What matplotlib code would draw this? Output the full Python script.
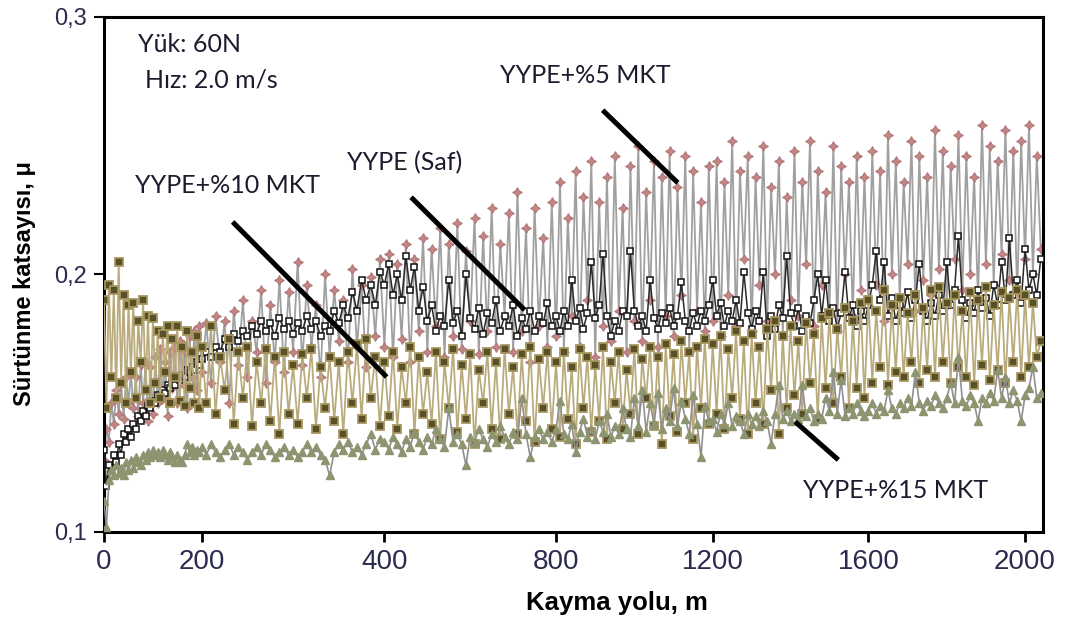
import matplotlib.pyplot as plt
import numpy as np

# sliding distance (m): 5 m steps up to 400 m, 10 m steps after that
x_m = np.concatenate([np.arange(0, 400, 5), np.arange(400, 2041, 10)])

# friction coefficients, in units of 1e-3
mu_5 = [
    128, 140, 135, 150, 142, 155, 146, 158, 144, 160, 150, 162, 148, 160, 145, 165, 150, 166, 143, 164,
    146, 168, 150, 171, 152, 166, 145, 170, 156, 172, 150, 174, 158, 170, 148, 176, 160, 178, 155, 180,
    162, 181, 158, 184, 166, 182, 150, 186, 165, 190, 160, 182, 170, 194, 158, 188, 166, 198, 162, 193,
    170, 205, 165, 196, 172, 188, 160, 200, 168, 194, 174, 190, 166, 202, 172, 196, 164, 199, 176, 206,
    172, 208, 168, 204, 175, 212, 166, 206, 178, 214, 170, 210, 180, 218, 168, 212, 176, 220, 171, 209,
    182, 222, 169, 215, 178, 226, 172, 212, 184, 224, 170, 232, 178, 218, 166, 226, 180, 214, 172, 228,
    176, 236, 170, 222, 184, 240, 172, 230, 190, 244, 168, 228, 180, 238, 174, 246, 186, 226, 170, 242,
    182, 250, 174, 232, 190, 244, 172, 238, 184, 248, 176, 234, 192, 246, 170, 240, 186, 228, 178, 242,
    182, 244, 176, 236, 192, 252, 180, 240, 206, 246, 178, 238, 196, 250, 182, 234, 200, 244, 176, 230,
    190, 248, 184, 236, 204, 252, 180, 240, 196, 232, 186, 250, 178, 242, 200, 236, 184, 246, 194, 238,
    188, 248, 196, 240, 182, 254, 200, 244, 190, 236, 204, 252, 186, 246, 198, 238, 192, 256, 202, 248,
    188, 242, 206, 254, 194, 246, 200, 238, 190, 258, 204, 250, 196, 244, 208, 256, 198, 248, 192, 252,
    206, 258, 200, 246, 210,
]

mu_saf = [
    132, 118, 126, 122, 130, 127, 134, 130, 138, 135, 140, 137, 142, 140, 145, 143, 147, 145, 149, 148,
    151, 150, 153, 152, 155, 154, 157, 156, 158, 157, 160, 159, 161, 160, 163, 162, 164, 163, 166, 165,
    167, 170, 168, 172, 170, 175, 172, 177, 174, 178, 176, 180, 177, 182, 178, 181, 176, 183, 179, 182,
    177, 181, 178, 184, 179, 182, 176, 180, 178, 186, 181, 188, 183, 193, 186, 198, 190, 196, 188, 201,
    196, 204, 192, 200, 190, 207, 194, 203, 186, 195, 182, 188, 178, 184, 180, 198, 181, 186, 176, 200,
    183, 179, 187, 177, 185, 181, 190, 178, 184, 180, 188, 176, 183, 179, 186, 178, 184, 181, 189, 180,
    184, 178, 186, 180, 198, 182, 187, 179, 185, 205, 183, 188, 208, 184, 176, 182, 178, 186, 184, 209,
    186, 180, 184, 178, 198, 183, 179, 185, 181, 187, 180, 184, 197, 182, 178, 185, 180, 186, 182, 188,
    198, 184, 189, 180, 186, 182, 190, 181, 201, 185, 179, 186, 182, 201, 176, 184, 179, 188, 183, 207,
    185, 180, 187, 178, 184, 181, 190, 200, 184, 198, 182, 187, 179, 185, 201, 183, 188, 180, 186, 182,
    188, 196, 209, 190, 205, 184, 191, 182, 188, 185, 193, 183, 190, 204, 186, 182, 189, 184, 192, 186,
    205, 188, 194, 215, 190, 183, 189, 185, 194, 187, 191, 184, 196, 188, 205, 190, 214, 192, 198, 189,
    210, 194, 200, 192, 206,
]

mu_10 = [
    190, 148, 196, 160, 194, 152, 205, 158, 192, 150, 188, 162, 189, 152, 182, 166, 190, 155, 184, 150,
    183, 158, 178, 152, 177, 162, 180, 150, 175, 160, 180, 151, 172, 149, 178, 156, 170, 150, 176, 148,
    172, 150, 180, 146, 168, 155, 175, 142, 170, 152, 172, 141, 166, 150, 171, 143, 168, 138, 170, 146,
    165, 142, 169, 152, 171, 140, 164, 148, 168, 143, 166, 138, 170, 150, 173, 144, 175, 152, 168, 141,
    166, 145, 170, 140, 164, 150, 172, 138, 168, 146, 162, 142, 170, 136, 166, 148, 171, 139, 165, 144,
    169, 134, 163, 150, 170, 140, 166, 136, 171, 146, 164, 138, 169, 143, 172, 135, 167, 148, 170, 140,
    166, 137, 170, 144, 164, 134, 171, 148, 168, 139, 165, 143, 172, 136, 166, 150, 170, 140, 163, 146,
    171, 138, 167, 152, 172, 141, 168, 134, 173, 145, 169, 139, 174, 150, 170, 136, 172, 148, 175, 142,
    173, 146, 176, 140, 171, 152, 178, 144, 174, 138, 177, 150, 172, 142, 179, 155, 182, 138, 176, 148,
    180, 153, 174, 146, 181, 158, 177, 144, 183, 156, 185, 150, 179, 160, 187, 148, 182, 156, 189, 152,
    190, 158, 186, 164, 194, 157, 188, 162, 191, 160, 185, 166, 192, 158, 187, 163, 194, 160, 195, 166,
    189, 158, 192, 164, 186, 160, 193, 157, 190, 165, 195, 159, 188, 163, 193, 158, 191, 166, 194, 160,
    192, 164, 189, 168, 174,
]

mu_15 = [
    112, 102, 120, 124, 122, 126, 123, 125, 122, 127, 124, 128, 125, 129, 127, 126, 130, 128, 131, 129,
    132, 130, 131, 129, 132, 130, 128, 131, 129, 127, 130, 128, 127, 130, 134, 131, 133, 130, 132, 131,
    133, 130, 134, 131, 129, 132, 134, 130, 133, 131, 128, 131, 133, 130, 134, 132, 129, 131, 133, 130,
    132, 129, 131, 134, 131, 133, 130, 128, 122, 131, 134, 132, 135, 131, 133, 130, 134, 138, 132, 136,
    135, 132, 137, 134, 131, 136, 133, 139, 135, 132, 137, 134, 140, 136, 133, 148, 135, 138, 134, 126,
    137, 135, 140, 136, 133, 138, 135, 141, 137, 134, 139, 136, 152, 138, 129, 137, 140, 136, 139, 135,
    140, 151, 138, 136, 142, 131, 139, 144, 137, 140, 136, 143, 139, 146, 137, 141, 138, 148, 140, 137,
    152, 141, 155, 139, 150, 142, 154, 140, 148, 143, 156, 141, 151, 144, 138, 153, 142, 129, 149, 143,
    144, 139, 146, 142, 150, 141, 145, 143, 138, 146, 142, 145, 141, 147, 143, 134, 146, 157, 144, 147,
    143, 146, 144, 157, 145, 148, 143, 146, 144, 152, 147, 162, 146, 159, 145, 148, 146, 150, 147, 145,
    147, 150, 146, 149, 147, 155, 148, 146, 150, 148, 152, 149, 162, 150, 147, 151, 149, 153, 150, 148,
    152, 158, 150, 168, 151, 149, 153, 150, 143, 152, 150, 154, 151, 163, 152, 160, 150, 155, 151, 143,
    153, 156, 164, 152, 154,
]

tick_m = [0, 200, 400, 800, 1200, 1600, 2000]
ytick_vals = [0.1, 0.2, 0.3]
ytick_labels = ['0,1', '0,2', '0,3']

# the distance axis is not linear: 0-400 m is stretched compared with the rest
scale_m = [-200, 0, 200, 400, 800, 1200, 1600, 2000, 2400]
scale_u = [-98, 0, 98, 281, 453, 610, 766, 923, 1080]


def fwd(v):
    return np.interp(v, scale_m, scale_u)


def inv(v):
    return np.interp(v, scale_u, scale_m)


fig = plt.figure(figsize=(10.79, 6.19), dpi=100)
ax = fig.add_axes([0.0964, 0.1406, 0.8703, 0.832])
ax.set_xscale('function', functions=(fwd, inv))

ax.plot(x_m, np.array(mu_5) / 1000, color='#a0a0a0', lw=1.3, marker=(4, 1, 0), ms=7,
        mfc='#c48585', mec='#b07878', mew=0.8, zorder=2)
ax.plot(x_m, np.array(mu_saf) / 1000, color='#2a2a2a', lw=1.1, marker='s', ms=4.8,
        mfc='white', mec='#111111', mew=1.1, zorder=3)
ax.plot(x_m, np.array(mu_10) / 1000, color='#b9ab7c', lw=1.3, marker='s', ms=5.5,
        mfc='#5a5028', mec='#a69660', mew=1.3, zorder=4)
ax.plot(x_m, np.array(mu_15) / 1000, color='#909090', lw=1.2, marker='^', ms=6,
        mfc='#8c9470', mec='#8c9470', zorder=5)

ax.set_xlim(0, 2046)
ax.set_ylim(0.1, 0.3)
ax.set_xticks(tick_m)
ax.set_xticklabels([str(t) for t in tick_m])
ax.xaxis.set_minor_locator(plt.NullLocator())
ax.set_yticks(ytick_vals)
ax.set_yticklabels(ytick_labels)

tick_color = '#2b2b4f'
ax.tick_params(axis='x', direction='out', length=7, width=2, pad=5, labelsize=20,
               labelcolor=tick_color)
ax.tick_params(axis='y', direction='out', length=7, width=1.5, pad=5, labelsize=17,
               labelcolor=tick_color)
for lab in ax.get_xticklabels() + ax.get_yticklabels():
    lab.set_family('Liberation Sans')
for sp in ax.spines.values():
    sp.set_linewidth(2.2)

ax.set_xlabel('Kayma yolu, m', family='Liberation Sans', fontweight='bold', fontsize=18.5)
ax.xaxis.set_label_coords(0.546, -0.115)
ax.set_ylabel('Sürtünme katsayısı, μ', family='Liberation Sans', fontweight='bold',
              fontsize=17)
ax.yaxis.set_label_coords(-0.072, 0.483)

# series labels with leader lines
txt = dict(family='Lato', fontsize=18, color='#1c1c2e', va='center', ha='left',
           transform=ax.transAxes)
ax.text(0.036, 0.946, 'Yük: 60N', **txt)
ax.text(0.044, 0.878, 'Hız: 2.0 m/s', **txt)
ax.text(0.033, 0.672, 'YYPE+%10 MKT', **txt)
ax.text(0.259, 0.717, 'YYPE (Saf)', **txt)
ax.text(0.422, 0.887, 'YYPE+%5 MKT', **txt)
ax.text(0.744, 0.080, 'YYPE+%15 MKT', **txt)

leaders = [((0.137, 0.602), (0.301, 0.301)),
           ((0.327, 0.650), (0.448, 0.431)),
           ((0.531, 0.819), (0.611, 0.678)),
           ((0.736, 0.214), (0.782, 0.140))]
for (x0, y0), (x1, y1) in leaders:
    ax.plot([x0, x1], [y0, y1], color='black', lw=3.6, transform=ax.transAxes,
            solid_capstyle='butt', zorder=6)

plt.savefig('out.png', dpi=100)
